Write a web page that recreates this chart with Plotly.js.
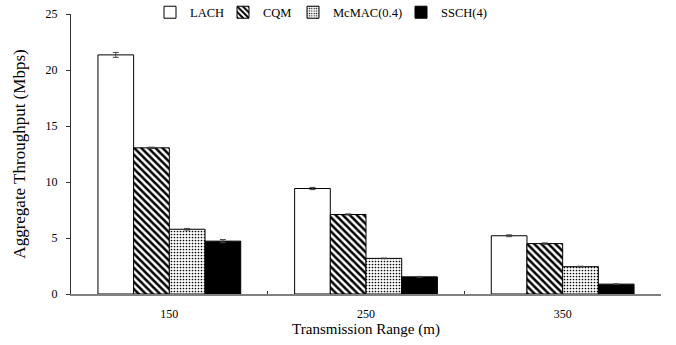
<!DOCTYPE html>
<html>
<head>
<meta charset="utf-8">
<script src="https://cdn.plot.ly/plotly-3.0.1.min.js"></script>
<style>
  html, body { margin: 0; padding: 0; background: #fff; }
  #chart { width: 676px; height: 345px; }
</style>
</head>
<body>
<div id="chart"></div>
<script>
// Aggregate throughput per transmission range, one series per protocol
const ranges = ['150', '250', '350'];
const lach = [21.35, 9.42, 5.2];
const lachErr = [0.22, 0.1, 0.08];
const cqm = [13.05, 7.1, 4.5];
const cqmErr = [0.06, 0.05, 0.06];
const mcmac = [5.78, 3.18, 2.44];
const mcmacErr = [0.07, 0.03, 0.04];
const ssch = [4.72, 1.53, 0.88];
const sschErr = [0.14, 0.04, 0.03];
const seriesNames = ['LACH', 'CQM', 'McMAC(0.4)', 'SSCH(4)'];
const yTicks = [0, 5, 10, 15, 20, 25];

const serif = 'Liberation Serif';
const errStyle = { type: 'data', visible: true, color: '#444', thickness: 1, width: 3 };
const outline = { color: '#000', width: 1 };

const traces = [
  {
    type: 'bar', name: seriesNames[0], x: ranges, y: lach,
    error_y: Object.assign({ array: lachErr }, errStyle),
    marker: { color: '#fff', line: outline },
    legend: 'legend'
  },
  {
    type: 'bar', name: seriesNames[1], x: ranges, y: cqm,
    error_y: Object.assign({ array: cqmErr }, errStyle),
    marker: {
      color: '#fff', line: outline,
      pattern: { shape: '\\', fgcolor: '#000', bgcolor: '#fff', size: 5, solidity: 0.5 }
    },
    legend: 'legend2'
  },
  {
    type: 'bar', name: seriesNames[2], x: ranges, y: mcmac,
    error_y: Object.assign({ array: mcmacErr }, errStyle),
    marker: {
      color: '#fff', line: outline,
      pattern: { shape: '.', fgcolor: '#000', bgcolor: '#fff', size: 3, solidity: 0.25 }
    },
    legend: 'legend3'
  },
  {
    type: 'bar', name: seriesNames[3], x: ranges, y: ssch,
    error_y: Object.assign({ array: sschErr }, errStyle),
    marker: { color: '#000', line: outline },
    legend: 'legend4'
  }
];

const plotLeft = 71, plotWidth = 590;
function legendAt(px) {
  return {
    x: (px - plotLeft) / plotWidth, xanchor: 'left',
    y: 1.005, yanchor: 'middle',
    orientation: 'h', bgcolor: 'rgba(0,0,0,0)',
    font: { family: serif, size: 12.5, color: '#000' },
    itemwidth: 30, tracegroupgap: 0
  };
}

const layout = {
  width: 676, height: 345,
  margin: { l: 71, r: 15, t: 14, b: 51, autoexpand: false },
  paper_bgcolor: '#fff', plot_bgcolor: '#fff',
  barmode: 'group', bargap: 0.274, bargroupgap: 0,
  showlegend: true,
  legend: legendAt(150),
  legend2: legendAt(223),
  legend3: legendAt(293),
  legend4: legendAt(401),
  font: { family: serif, size: 12, color: '#000' },
  xaxis: {
    type: 'category',
    showline: true, linecolor: '#808080', linewidth: 1.5,
    ticks: 'inside', tickson: 'boundaries', ticklen: 3, tickcolor: '#333',
    showgrid: false, zeroline: false,
    ticklabelstandoff: 8,
    tickfont: { family: serif, size: 12, color: '#000' },
    title: { text: 'Transmission Range (m)', font: { family: serif, size: 15, color: '#000' }, standoff: 3 }
  },
  yaxis: {
    range: [0, 25], tickvals: yTicks,
    showline: true, linecolor: '#333', linewidth: 1,
    ticks: 'outside', ticklen: 4, tickcolor: '#333',
    showgrid: false, zeroline: false,
    ticklabelstandoff: 6,
    tickfont: { family: serif, size: 12, color: '#000' },
    title: { text: 'Aggregate Throughput (Mbps)', font: { family: serif, size: 17, color: '#000' }, standoff: 15 }
  }
};

Plotly.newPlot('chart', traces, layout, { displayModeBar: false, staticPlot: true });
</script>
</body>
</html>
